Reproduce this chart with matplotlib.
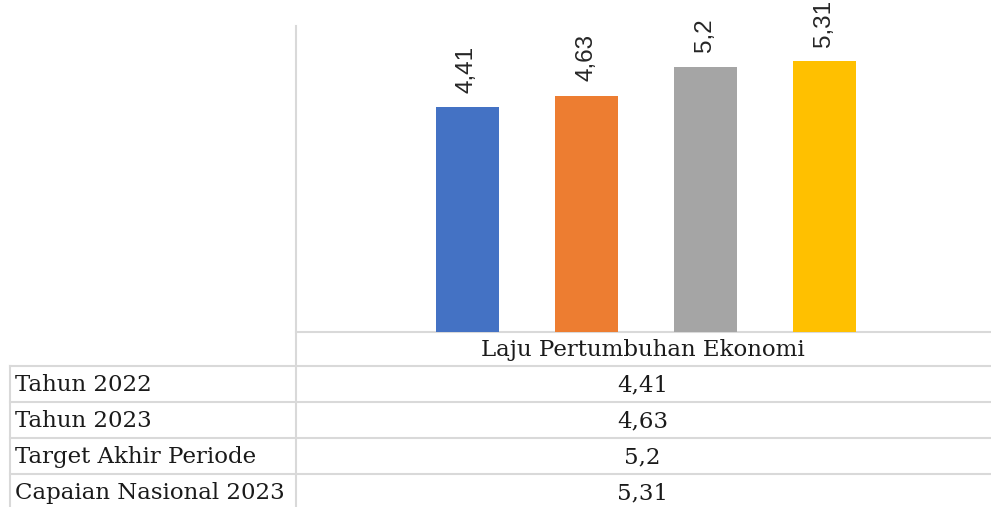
import numpy as np
import matplotlib
matplotlib.use("Agg")
import matplotlib.pyplot as plt

series = ["Tahun 2022", "Tahun 2023", "Target Akhir Periode", "Capaian Nasional 2023"]
values = [4.41, 4.63, 5.2, 5.31]
labels = ["4,41", "4,63", "5,2", "5,31"]
category = "Laju Pertumbuhan Ekonomi"
colors = ["#4472C4", "#ED7D31", "#A5A5A5", "#FFC000"]

W, H = 991, 507
fig = plt.figure(figsize=(W / 100, H / 100), dpi=100)

# background layer in pixel coordinates for the data table grid
bg = fig.add_axes([0, 0, 1, 1])
bg.set_xlim(0, W)
bg.set_ylim(H, 0)
bg.axis("off")

grid_c = "#d9d9d9"
lw = 1.5
x_axis, y_base, y_top = 296, 332, 26
row_lines = [366, 402, 438, 474]
bg.plot([x_axis, x_axis], [y_top, H], color=grid_c, lw=lw)
bg.plot([x_axis, W], [y_base, y_base], color=grid_c, lw=lw)
for y in row_lines:
    bg.plot([10, W], [y, y], color=grid_c, lw=lw)
bg.plot([10, 10], [row_lines[0], H], color=grid_c, lw=lw)

# bar chart area
ax = fig.add_axes([x_axis / W, (H - y_base) / H, (W - x_axis) / W, (y_base - y_top) / H])
ax.patch.set_alpha(0)
x = np.arange(len(values))
spacing = 119
bw = 63 / spacing
ax.bar(x, values, width=bw, color=colors)
half = (W - x_axis) / 2 / spacing
mid = (x[0] + x[-1]) / 2 - 2 / spacing
ax.set_xlim(mid - half, mid + half)
ax.set_ylim(0, 6)
ax.axis("off")
for xi, v, lab in zip(x, values, labels):
    ax.annotate(lab, (xi, v), xytext=(0, 10.5), textcoords="offset points",
                rotation=90, ha="center", va="bottom", fontsize=17.5,
                family="Liberation Sans", color="#262626")

# data table text
tcx = (x_axis + W) / 2 - 1
serif = dict(family="DejaVu Serif", fontsize=16.5, color="#1a1a1a")
bg.text(tcx, (y_base + row_lines[0]) / 2 + 1, category, ha="center", va="center", **serif)
for i, (name, lab) in enumerate(zip(series, labels)):
    yc = row_lines[i] + 18 + 1
    bg.text(15, yc, name, ha="left", va="center", **serif)
    bg.text(tcx, yc, lab, ha="center", va="center", **serif)

fig.savefig("out.png", dpi=100)
